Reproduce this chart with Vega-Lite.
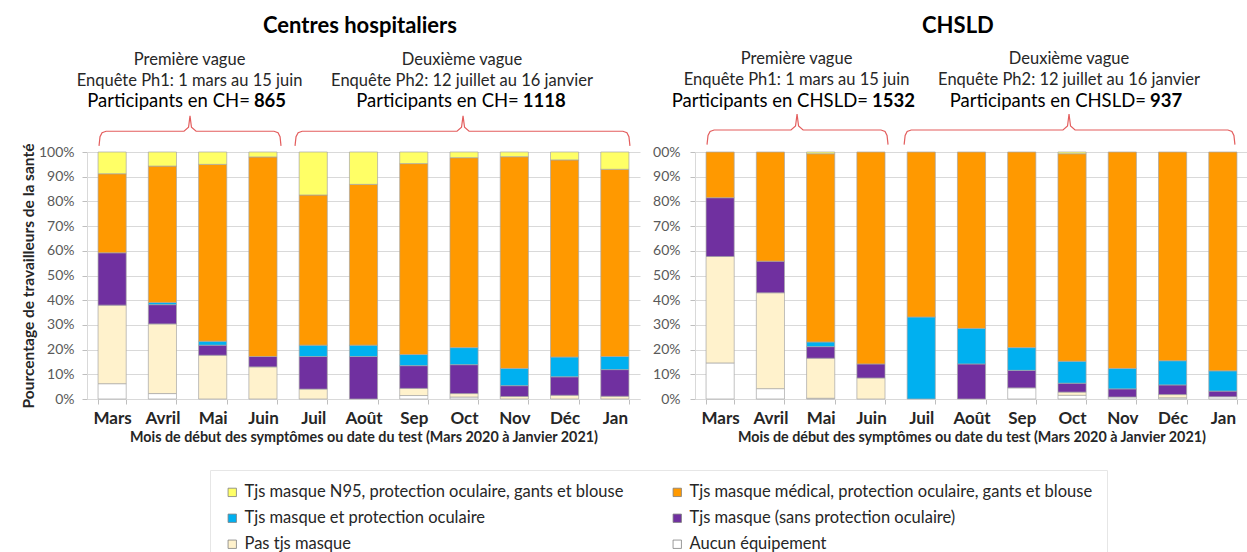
{
  "$schema": "https://vega.github.io/schema/vega-lite/v6.json",
  "padding": {"left": 21, "top": 15, "right": 0, "bottom": 0},
  "background": "white",
  "spacing": 12,
  "config": {
    "font": "Lato",
    "view": {"stroke": null},
    "axis": {
      "domainColor": "#d9d9d9",
      "tickColor": "#bfbfbf",
      "gridColor": "#d9d9d9",
      "tickSize": 5,
      "labelFont": "Lato",
      "titleFont": "Lato"
    },
    "legend": {
      "symbolType": "square",
      "symbolSize": 70,
      "symbolStrokeColor": "#7f7f7f",
      "symbolStrokeWidth": 0.8,
      "labelFont": "Lato",
      "labelFontSize": 16.5,
      "labelColor": "#262626",
      "labelLimit": 700
    }
  },
  "datasets": {
    "bars": [
      {"c": "CH", "m": "Mars", "aucun": 6.2, "pas": 31.8, "sp": 21.2, "mp": 0, "med": 32, "n95": 8.8},
      {"c": "CH", "m": "Avril", "aucun": 2.2, "pas": 28.2, "sp": 7.8, "mp": 0.9, "med": 55.2, "n95": 5.7},
      {"c": "CH", "m": "Mai", "aucun": 0, "pas": 17.7, "sp": 4.1, "mp": 1.6, "med": 71.6, "n95": 5},
      {"c": "CH", "m": "Juin", "aucun": 0, "pas": 13, "sp": 4.2, "mp": 0, "med": 80.8, "n95": 2},
      {"c": "CH", "m": "Juil", "aucun": 0, "pas": 4, "sp": 13.2, "mp": 4.6, "med": 60.8, "n95": 17.4},
      {"c": "CH", "m": "Août", "aucun": 0, "pas": 0, "sp": 17.2, "mp": 4.6, "med": 65.1, "n95": 13.1},
      {"c": "CH", "m": "Sep", "aucun": 1.4, "pas": 2.9, "sp": 9.2, "mp": 4.5, "med": 77.3, "n95": 4.7},
      {"c": "CH", "m": "Oct", "aucun": 0.8, "pas": 1.4, "sp": 11.7, "mp": 6.9, "med": 76.9, "n95": 2.3},
      {"c": "CH", "m": "Nov", "aucun": 0, "pas": 1, "sp": 4.4, "mp": 7, "med": 85.7, "n95": 1.9},
      {"c": "CH", "m": "Déc", "aucun": 0, "pas": 1.5, "sp": 7.5, "mp": 8, "med": 79.8, "n95": 3.2},
      {"c": "CH", "m": "Jan", "aucun": 0, "pas": 1.1, "sp": 10.8, "mp": 5.3, "med": 75.8, "n95": 7},
      {"c": "CHSLD", "m": "Mars", "aucun": 14.6, "pas": 43.1, "sp": 23.8, "mp": 0, "med": 18.5, "n95": 0},
      {"c": "CHSLD", "m": "Avril", "aucun": 4.2, "pas": 38.8, "sp": 12.8, "mp": 0, "med": 44.2, "n95": 0},
      {"c": "CHSLD", "m": "Mai", "aucun": 0.3, "pas": 16.2, "sp": 4.7, "mp": 1.9, "med": 76.2, "n95": 0.7},
      {"c": "CHSLD", "m": "Juin", "aucun": 0, "pas": 8.5, "sp": 5.7, "mp": 0, "med": 85.8, "n95": 0},
      {"c": "CHSLD", "m": "Juil", "aucun": 0, "pas": 0, "sp": 0, "mp": 33.2, "med": 66.8, "n95": 0},
      {"c": "CHSLD", "m": "Août", "aucun": 0, "pas": 0, "sp": 14.2, "mp": 14.4, "med": 71.4, "n95": 0},
      {"c": "CHSLD", "m": "Sep", "aucun": 4.5, "pas": 0, "sp": 7.1, "mp": 9.2, "med": 79.2, "n95": 0},
      {"c": "CHSLD", "m": "Oct", "aucun": 1.5, "pas": 1.3, "sp": 3.6, "mp": 8.9, "med": 84, "n95": 0.7},
      {"c": "CHSLD", "m": "Nov", "aucun": 0.8, "pas": 0, "sp": 3.3, "mp": 8.3, "med": 87.6, "n95": 0},
      {"c": "CHSLD", "m": "Déc", "aucun": 0.5, "pas": 1.3, "sp": 3.9, "mp": 9.8, "med": 84.5, "n95": 0},
      {"c": "CHSLD", "m": "Jan", "aucun": 0.9, "pas": 0, "sp": 2.3, "mp": 8.2, "med": 88.6, "n95": 0}
    ],
    "cats": [
      {"k": "n95", "label": "Tjs masque N95, protection oculaire, gants et blouse", "rank": 6},
      {"k": "med", "label": "Tjs masque médical, protection oculaire, gants et blouse", "rank": 5},
      {"k": "mp", "label": "Tjs masque et protection oculaire", "rank": 4},
      {"k": "sp", "label": "Tjs masque (sans protection oculaire)", "rank": 3},
      {"k": "pas", "label": "Pas tjs masque", "rank": 2},
      {"k": "aucun", "label": "Aucun équipement", "rank": 1}
    ],
    "notes": [
      {"c": "CH", "kind": "title", "x": 5.43, "y": 1.51, "t": "Centres hospitaliers"},
      {"c": "CH", "kind": "sub", "x": 2.04, "y": 1.372, "t": "Première vague"},
      {"c": "CH", "kind": "sub", "x": 2.04, "y": 1.287, "t": "Enquête Ph1: 1 mars au 15 juin"},
      {"c": "CH", "kind": "pre", "x": 3.28, "y": 1.206, "t": "Participants en CH="},
      {"c": "CH", "kind": "num", "x": 3.28, "y": 1.206, "t": "865"},
      {"c": "CH", "kind": "sub", "x": 7.46, "y": 1.372, "t": "Deuxième vague"},
      {"c": "CH", "kind": "sub", "x": 7.46, "y": 1.287, "t": "Enquête Ph2: 12 juillet au 16 janvier"},
      {"c": "CH", "kind": "pre", "x": 8.63, "y": 1.206, "t": "Participants en CH="},
      {"c": "CH", "kind": "num", "x": 8.63, "y": 1.206, "t": "1118"},
      {"c": "CHSLD", "kind": "title", "x": 5.23, "y": 1.51, "t": "CHSLD"},
      {"c": "CHSLD", "kind": "sub", "x": 2.02, "y": 1.376, "t": "Première vague"},
      {"c": "CHSLD", "kind": "sub", "x": 2.02, "y": 1.291, "t": "Enquête Ph1: 1 mars au 15 juin"},
      {"c": "CHSLD", "kind": "pre", "x": 3.48, "y": 1.206, "t": "Participants en CHSLD="},
      {"c": "CHSLD", "kind": "num", "x": 3.48, "y": 1.206, "t": "1532"},
      {"c": "CHSLD", "kind": "sub", "x": 7.44, "y": 1.376, "t": "Deuxième vague"},
      {"c": "CHSLD", "kind": "sub", "x": 7.44, "y": 1.291, "t": "Enquête Ph2: 12 juillet au 16 janvier"},
      {"c": "CHSLD", "kind": "pre", "x": 9.01, "y": 1.206, "t": "Participants en CHSLD="},
      {"c": "CHSLD", "kind": "num", "x": 9.01, "y": 1.206, "t": "937"}
    ],
    "braces": [
      {"c": "CH", "b": 1, "i": 1, "x": 0.239, "y": 1.025},
      {"c": "CH", "b": 1, "i": 2, "x": 0.259, "y": 1.062},
      {"c": "CH", "b": 1, "i": 3, "x": 0.3, "y": 1.078},
      {"c": "CH", "b": 1, "i": 4, "x": 0.38, "y": 1.084},
      {"c": "CH", "b": 1, "i": 5, "x": 1.93, "y": 1.084},
      {"c": "CH", "b": 1, "i": 6, "x": 2.02, "y": 1.1},
      {"c": "CH", "b": 1, "i": 7, "x": 2.049, "y": 1.146},
      {"c": "CH", "b": 1, "i": 8, "x": 2.078, "y": 1.1},
      {"c": "CH", "b": 1, "i": 9, "x": 2.17, "y": 1.084},
      {"c": "CH", "b": 1, "i": 10, "x": 3.72, "y": 1.084},
      {"c": "CH", "b": 1, "i": 11, "x": 3.8, "y": 1.078},
      {"c": "CH", "b": 1, "i": 12, "x": 3.84, "y": 1.062},
      {"c": "CH", "b": 1, "i": 13, "x": 3.859, "y": 1.025},
      {"c": "CH", "b": 2, "i": 1, "x": 4.138, "y": 1.025},
      {"c": "CH", "b": 2, "i": 2, "x": 4.158, "y": 1.062},
      {"c": "CH", "b": 2, "i": 3, "x": 4.2, "y": 1.078},
      {"c": "CH", "b": 2, "i": 4, "x": 4.28, "y": 1.084},
      {"c": "CH", "b": 2, "i": 5, "x": 7.36, "y": 1.084},
      {"c": "CH", "b": 2, "i": 6, "x": 7.45, "y": 1.1},
      {"c": "CH", "b": 2, "i": 7, "x": 7.48, "y": 1.146},
      {"c": "CH", "b": 2, "i": 8, "x": 7.51, "y": 1.1},
      {"c": "CH", "b": 2, "i": 9, "x": 7.6, "y": 1.084},
      {"c": "CH", "b": 2, "i": 10, "x": 10.66, "y": 1.084},
      {"c": "CH", "b": 2, "i": 11, "x": 10.74, "y": 1.078},
      {"c": "CH", "b": 2, "i": 12, "x": 10.78, "y": 1.062},
      {"c": "CH", "b": 2, "i": 13, "x": 10.8, "y": 1.025},
      {"c": "CHSLD", "b": 1, "i": 1, "x": 0.239, "y": 1.03},
      {"c": "CHSLD", "b": 1, "i": 2, "x": 0.259, "y": 1.067},
      {"c": "CHSLD", "b": 1, "i": 3, "x": 0.3, "y": 1.083},
      {"c": "CHSLD", "b": 1, "i": 4, "x": 0.38, "y": 1.089},
      {"c": "CHSLD", "b": 1, "i": 5, "x": 1.91, "y": 1.089},
      {"c": "CHSLD", "b": 1, "i": 6, "x": 2.0, "y": 1.105},
      {"c": "CHSLD", "b": 1, "i": 7, "x": 2.03, "y": 1.154},
      {"c": "CHSLD", "b": 1, "i": 8, "x": 2.06, "y": 1.105},
      {"c": "CHSLD", "b": 1, "i": 9, "x": 2.15, "y": 1.089},
      {"c": "CHSLD", "b": 1, "i": 10, "x": 3.7, "y": 1.089},
      {"c": "CHSLD", "b": 1, "i": 11, "x": 3.78, "y": 1.083},
      {"c": "CHSLD", "b": 1, "i": 12, "x": 3.82, "y": 1.067},
      {"c": "CHSLD", "b": 1, "i": 13, "x": 3.84, "y": 1.03},
      {"c": "CHSLD", "b": 2, "i": 1, "x": 4.16, "y": 1.03},
      {"c": "CHSLD", "b": 2, "i": 2, "x": 4.18, "y": 1.067},
      {"c": "CHSLD", "b": 2, "i": 3, "x": 4.22, "y": 1.083},
      {"c": "CHSLD", "b": 2, "i": 4, "x": 4.3, "y": 1.089},
      {"c": "CHSLD", "b": 2, "i": 5, "x": 7.32, "y": 1.089},
      {"c": "CHSLD", "b": 2, "i": 6, "x": 7.41, "y": 1.105},
      {"c": "CHSLD", "b": 2, "i": 7, "x": 7.44, "y": 1.154},
      {"c": "CHSLD", "b": 2, "i": 8, "x": 7.47, "y": 1.105},
      {"c": "CHSLD", "b": 2, "i": 9, "x": 7.56, "y": 1.089},
      {"c": "CHSLD", "b": 2, "i": 10, "x": 10.6, "y": 1.089},
      {"c": "CHSLD", "b": 2, "i": 11, "x": 10.68, "y": 1.083},
      {"c": "CHSLD", "b": 2, "i": 12, "x": 10.72, "y": 1.067},
      {"c": "CHSLD", "b": 2, "i": 13, "x": 10.74, "y": 1.03}
    ]
  },
  "resolve": {"scale": {"color": "shared"}, "legend": {"color": "shared"}},
  "hconcat": [
    {
      "width": 553,
      "height": 247,
      "resolve": {"scale": {"x": "independent", "y": "independent"}, "axis": {"x": "independent", "y": "independent"}},
      "layer": [
        {
          "data": {"name": "bars"},
          "transform": [
            {"filter": "datum.c === 'CH'"},
            {"fold": ["aucun", "pas", "sp", "mp", "med", "n95"], "as": ["k", "v"]},
            {"filter": "datum.v > 0"},
            {"lookup": "k", "from": {"data": {"name": "cats"}, "key": "k", "fields": ["label", "rank"]}}
          ],
          "mark": {"type": "bar", "stroke": "#a6a6a6", "strokeWidth": 0.7},
          "encoding": {
            "x": {
              "field": "m", "type": "nominal",
              "sort": ["Mars", "Avril", "Mai", "Juin", "Juil", "Août", "Sep", "Oct", "Nov", "Déc", "Jan"],
              "scale": {"paddingInner": 0.44, "paddingOuter": 0.22},
              "axis": {
                "title": "Mois de début des symptômes ou date du test (Mars 2020 à Janvier 2021)",
                "titleFontSize": 14.3, "titleFontWeight": "bold", "titleColor": "#262626", "titlePadding": 4,
                "labelAngle": 0, "labelFontSize": 17, "labelFontWeight": "bold", "labelColor": "#262626", "labelPadding": 6,
                "tickBand": "extent", "grid": false
              }
            },
            "y": {
              "field": "v", "type": "quantitative", "stack": "normalize",
              "scale": {"domain": [0, 1]},
              "axis": {
                "title": "Pourcentage de travailleurs de la santé",
                "titleFontSize": 15.5, "titleFontWeight": "bold", "titleColor": "#262626", "titlePadding": 2,
                "values": [0, 0.1, 0.2, 0.3, 0.4, 0.5, 0.6, 0.7, 0.8, 0.9, 1],
                "format": ".0%", "labelFontSize": 14, "labelColor": "#595959", "labelPadding": 8,
                "grid": true
              }
            },
            "color": {
              "field": "label", "type": "nominal",
              "scale": {
                "domain": ["Tjs masque N95, protection oculaire, gants et blouse", "Tjs masque médical, protection oculaire, gants et blouse", "Tjs masque et protection oculaire", "Tjs masque (sans protection oculaire)", "Pas tjs masque", "Aucun équipement"],
                "range": ["#FFFF66", "#FF9900", "#00B0F0", "#7030A0", "#FFF2CC", "#FFFFFF"]
              },
              "legend": {
                "title": null, "orient": "none", "legendX": 123, "legendY": 318,
                "columns": 2, "direction": "horizontal", "columnPadding": 45, "rowPadding": 9,
                "strokeColor": "#e6e6e6", "padding": 14
              }
            },
            "order": {"field": "rank", "type": "quantitative"}
          }
        },
        {
          "data": {"name": "braces"},
          "transform": [{"filter": "datum.c === 'CH'"}],
          "mark": {"type": "line", "color": "#e35d5d", "strokeWidth": 1.2},
          "encoding": {
            "x": {"field": "x", "type": "quantitative", "scale": {"domain": [0, 11]}, "axis": null},
            "y": {"field": "y", "type": "quantitative", "scale": {"domain": [0, 1]}, "axis": null},
            "detail": {"field": "b"},
            "order": {"field": "i", "type": "quantitative"}
          }
        },
        {
          "data": {"name": "notes"},
          "transform": [{"filter": "datum.c === 'CH' && datum.kind === 'title'"}],
          "mark": {"type": "text", "fontSize": 22, "fontWeight": "bold", "color": "#000000", "align": "center", "baseline": "middle"},
          "encoding": {
            "x": {"field": "x", "type": "quantitative", "scale": {"domain": [0, 11]}, "axis": null},
            "y": {"field": "y", "type": "quantitative", "scale": {"domain": [0, 1]}, "axis": null},
            "text": {"field": "t"}
          }
        },
        {
          "data": {"name": "notes"},
          "transform": [{"filter": "datum.c === 'CH' && datum.kind === 'sub'"}],
          "mark": {"type": "text", "fontSize": 16.5, "color": "#262626", "align": "center", "baseline": "middle"},
          "encoding": {
            "x": {"field": "x", "type": "quantitative", "scale": {"domain": [0, 11]}, "axis": null},
            "y": {"field": "y", "type": "quantitative", "scale": {"domain": [0, 1]}, "axis": null},
            "text": {"field": "t"}
          }
        },
        {
          "data": {"name": "notes"},
          "transform": [{"filter": "datum.c === 'CH' && datum.kind === 'pre'"}],
          "mark": {"type": "text", "fontSize": 18.5, "color": "#000000", "align": "right", "baseline": "middle", "dx": -2},
          "encoding": {
            "x": {"field": "x", "type": "quantitative", "scale": {"domain": [0, 11]}, "axis": null},
            "y": {"field": "y", "type": "quantitative", "scale": {"domain": [0, 1]}, "axis": null},
            "text": {"field": "t"}
          }
        },
        {
          "data": {"name": "notes"},
          "transform": [{"filter": "datum.c === 'CH' && datum.kind === 'num'"}],
          "mark": {"type": "text", "fontSize": 18.5, "fontWeight": "bold", "color": "#000000", "align": "left", "baseline": "middle", "dx": 2},
          "encoding": {
            "x": {"field": "x", "type": "quantitative", "scale": {"domain": [0, 11]}, "axis": null},
            "y": {"field": "y", "type": "quantitative", "scale": {"domain": [0, 1]}, "axis": null},
            "text": {"field": "t"}
          }
        }
      ]
    },
    {
      "width": 553,
      "height": 247,
      "resolve": {"scale": {"x": "independent", "y": "independent"}, "axis": {"x": "independent", "y": "independent"}},
      "layer": [
        {
          "data": {"name": "bars"},
          "transform": [
            {"filter": "datum.c === 'CHSLD'"},
            {"fold": ["aucun", "pas", "sp", "mp", "med", "n95"], "as": ["k", "v"]},
            {"filter": "datum.v > 0"},
            {"lookup": "k", "from": {"data": {"name": "cats"}, "key": "k", "fields": ["label", "rank"]}}
          ],
          "mark": {"type": "bar", "stroke": "#a6a6a6", "strokeWidth": 0.7},
          "encoding": {
            "x": {
              "field": "m", "type": "nominal",
              "sort": ["Mars", "Avril", "Mai", "Juin", "Juil", "Août", "Sep", "Oct", "Nov", "Déc", "Jan"],
              "scale": {"paddingInner": 0.44, "paddingOuter": 0.22},
              "axis": {
                "title": "Mois de début des symptômes ou date du test (Mars 2020 à Janvier 2021)",
                "titleFontSize": 14.3, "titleFontWeight": "bold", "titleColor": "#262626", "titlePadding": 4,
                "labelAngle": 0, "labelFontSize": 17, "labelFontWeight": "bold", "labelColor": "#262626", "labelPadding": 6,
                "tickBand": "extent", "grid": false
              }
            },
            "y": {
              "field": "v", "type": "quantitative", "stack": "normalize",
              "scale": {"domain": [0, 1]},
              "axis": {
                "title": null,
                "values": [0, 0.1, 0.2, 0.3, 0.4, 0.5, 0.6, 0.7, 0.8, 0.9, 1],
                "labelExpr": "datum.value >= 0.999 ? '00%' : format(datum.value, '.0%')",
                "labelFontSize": 14, "labelColor": "#595959", "labelPadding": 10,
                "grid": true
              }
            },
            "color": {
              "field": "label", "type": "nominal",
              "scale": {
                "domain": ["Tjs masque N95, protection oculaire, gants et blouse", "Tjs masque médical, protection oculaire, gants et blouse", "Tjs masque et protection oculaire", "Tjs masque (sans protection oculaire)", "Pas tjs masque", "Aucun équipement"],
                "range": ["#FFFF66", "#FF9900", "#00B0F0", "#7030A0", "#FFF2CC", "#FFFFFF"]
              },
              "legend": {
                "title": null, "orient": "none", "legendX": 123, "legendY": 318,
                "columns": 2, "direction": "horizontal", "columnPadding": 45, "rowPadding": 9,
                "strokeColor": "#e6e6e6", "padding": 14
              }
            },
            "order": {"field": "rank", "type": "quantitative"}
          }
        },
        {
          "data": {"name": "braces"},
          "transform": [{"filter": "datum.c === 'CHSLD'"}],
          "mark": {"type": "line", "color": "#e35d5d", "strokeWidth": 1.2},
          "encoding": {
            "x": {"field": "x", "type": "quantitative", "scale": {"domain": [0, 11]}, "axis": null},
            "y": {"field": "y", "type": "quantitative", "scale": {"domain": [0, 1]}, "axis": null},
            "detail": {"field": "b"},
            "order": {"field": "i", "type": "quantitative"}
          }
        },
        {
          "data": {"name": "notes"},
          "transform": [{"filter": "datum.c === 'CHSLD' && datum.kind === 'title'"}],
          "mark": {"type": "text", "fontSize": 22, "fontWeight": "bold", "color": "#000000", "align": "center", "baseline": "middle"},
          "encoding": {
            "x": {"field": "x", "type": "quantitative", "scale": {"domain": [0, 11]}, "axis": null},
            "y": {"field": "y", "type": "quantitative", "scale": {"domain": [0, 1]}, "axis": null},
            "text": {"field": "t"}
          }
        },
        {
          "data": {"name": "notes"},
          "transform": [{"filter": "datum.c === 'CHSLD' && datum.kind === 'sub'"}],
          "mark": {"type": "text", "fontSize": 16.5, "color": "#262626", "align": "center", "baseline": "middle"},
          "encoding": {
            "x": {"field": "x", "type": "quantitative", "scale": {"domain": [0, 11]}, "axis": null},
            "y": {"field": "y", "type": "quantitative", "scale": {"domain": [0, 1]}, "axis": null},
            "text": {"field": "t"}
          }
        },
        {
          "data": {"name": "notes"},
          "transform": [{"filter": "datum.c === 'CHSLD' && datum.kind === 'pre'"}],
          "mark": {"type": "text", "fontSize": 18.5, "color": "#000000", "align": "right", "baseline": "middle", "dx": -2},
          "encoding": {
            "x": {"field": "x", "type": "quantitative", "scale": {"domain": [0, 11]}, "axis": null},
            "y": {"field": "y", "type": "quantitative", "scale": {"domain": [0, 1]}, "axis": null},
            "text": {"field": "t"}
          }
        },
        {
          "data": {"name": "notes"},
          "transform": [{"filter": "datum.c === 'CHSLD' && datum.kind === 'num'"}],
          "mark": {"type": "text", "fontSize": 18.5, "fontWeight": "bold", "color": "#000000", "align": "left", "baseline": "middle", "dx": 2},
          "encoding": {
            "x": {"field": "x", "type": "quantitative", "scale": {"domain": [0, 11]}, "axis": null},
            "y": {"field": "y", "type": "quantitative", "scale": {"domain": [0, 1]}, "axis": null},
            "text": {"field": "t"}
          }
        }
      ]
    }
  ]
}
